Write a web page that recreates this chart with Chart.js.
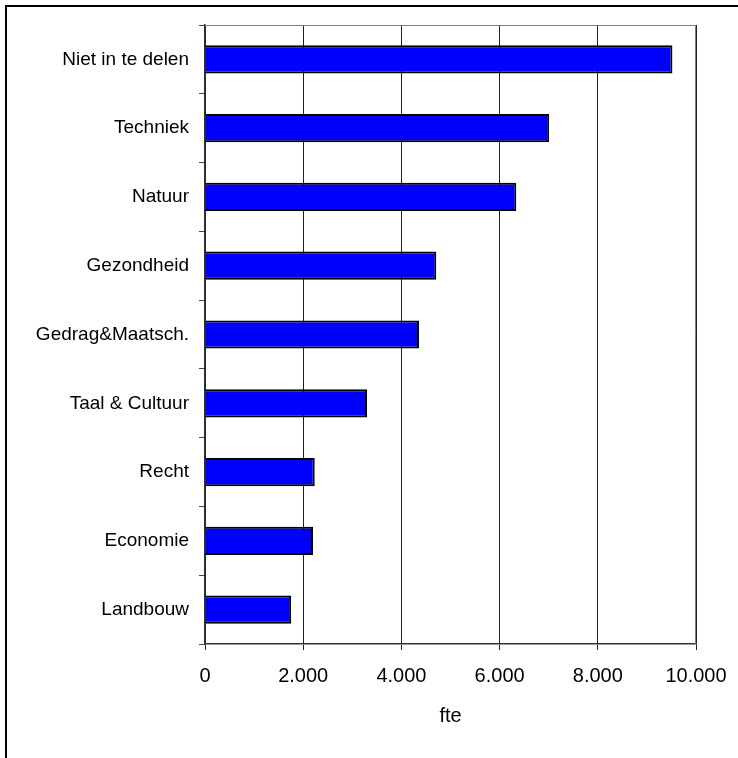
<!DOCTYPE html>
<html>
<head>
<meta charset="utf-8">
<script src="https://cdn.jsdelivr.net/npm/chart.js@4"></script>
<style>
  html, body { margin: 0; padding: 0; background: #fff; }
  #wrap { position: relative; width: 738px; height: 758px; }
  #frame { position: absolute; left: 5px; top: 5px; right: 0; bottom: 0;
           border-top: 2px solid #000; border-left: 2px solid #000; pointer-events: none; }
</style>
</head>
<body>
<div id="wrap">
  <canvas id="myChart" width="738" height="758"></canvas>
  <div id="frame"></div>
</div>
<script>
const categories = ['Niet in te delen', 'Techniek', 'Natuur', 'Gezondheid', 'Gedrag&Maatsch.',
                    'Taal & Cultuur', 'Recht', 'Economie', 'Landbouw']
const fte = [9520, 7010, 6340, 4710, 4360, 3300, 2235, 2200, 1755]
const xTicks = [0, 2000, 4000, 6000, 8000, 10000]
const axisTitle = 'fte'

const ctx = document.getElementById('myChart');

function dutch(v){
  return String(v).replace(/\B(?=(\d{3})+(?!\d))/g, '.')
}

// grey box on top and right of the plot area
const plotBox = {
  id: 'plotBox',
  afterDatasetsDraw(chart){
    const a = chart.chartArea
    const c = chart.ctx
    c.save()
    c.strokeStyle = '#808080'
    c.lineWidth = 1
    c.beginPath()
    c.moveTo(a.left, a.top + 0.5)
    c.lineTo(a.right - 0.5, a.top + 0.5)
    c.lineTo(a.right - 0.5, a.bottom)
    c.stroke()
    c.restore()
  }
}

new Chart(ctx, {
  type: 'bar',
  data: {
    labels: categories,
    datasets: [{
      data: fte,
      backgroundColor: '#0000ff',
      borderColor: '#000',
      borderWidth: 2,
      categoryPercentage: 1,
      barPercentage: 0.41
    }]
  },
  options: {
    indexAxis: 'y',
    responsive: false,
    animation: false,
    layout: { padding: { top: 25, right: 42, left: 0, bottom: 30 } },
    plugins: { legend: { display: false }, tooltip: { enabled: false } },
    scales: {
      x: {
        min: 0,
        max: 10000,
        afterBuildTicks(scale){ scale.ticks = xTicks.map(v => ({ value: v })) },
        afterFit(scale){
          scale.height = 84
          scale.paddingRight = 0
          scale.paddingLeft = 0
        },
        grid: { color: '#222', lineWidth: 1, tickLength: 6, drawTicks: true },
        border: { color: '#333', width: 1.5 },
        ticks: {
          color: '#000',
          padding: 14,
          maxRotation: 0,
          font: { family: 'Liberation Sans, Arial', size: 20 },
          callback: v => dutch(v)
        },
        title: {
          display: true,
          text: axisTitle,
          color: '#000',
          padding: { top: 16, bottom: 0 },
          font: { family: 'Liberation Sans, Arial', size: 20 }
        }
      },
      y: {
        afterFit(scale){
          scale.width = 205
          scale.paddingTop = 0
          scale.paddingBottom = 0
        },
        grid: { offset: true, drawOnChartArea: false, tickLength: 6, color: '#444' },
        border: { color: '#333', width: 1.5 },
        ticks: {
          color: '#000',
          padding: 10,
          font: { family: 'Liberation Sans, Arial', size: 19 }
        }
      }
    }
  },
  plugins: [plotBox]
})
</script>
</body>
</html>
